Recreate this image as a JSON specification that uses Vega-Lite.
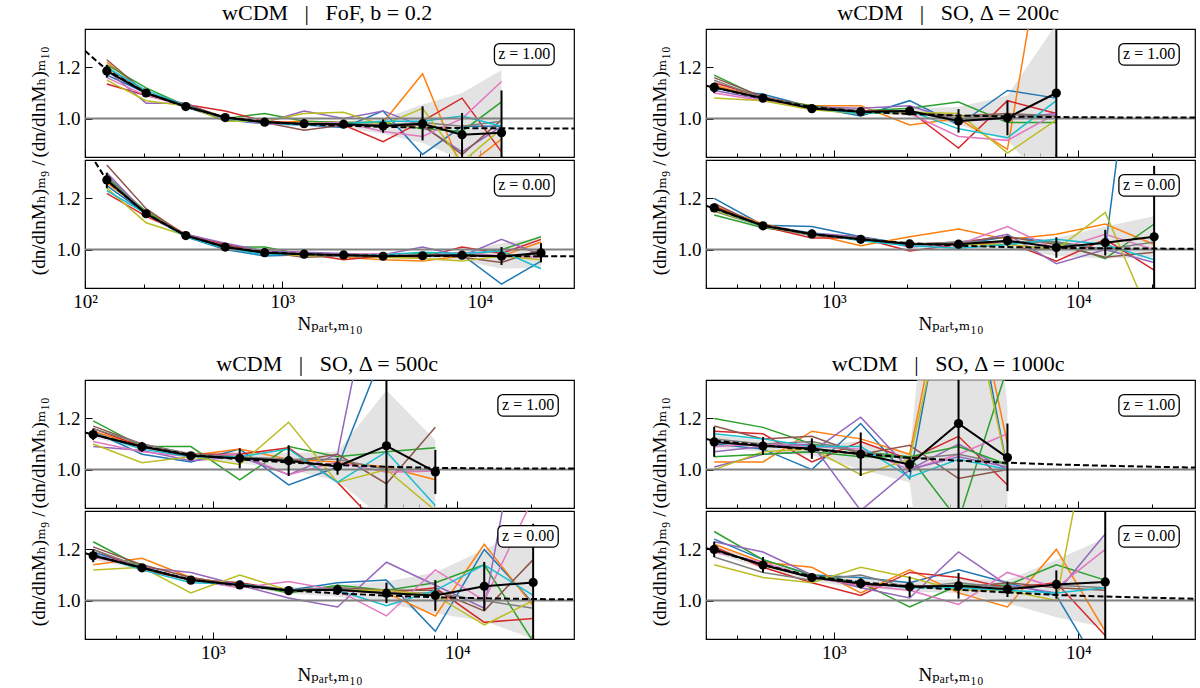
{
  "$schema": "https://vega.github.io/schema/vega-lite/v6.json",
  "background": "white",
  "padding": {"left": 28, "top": 2, "right": 0, "bottom": 0},
  "config": {
    "view": {"stroke": "black", "strokeWidth": 1.2},
    "axis": {"domain": false, "grid": false, "labelFont": "'Liberation Serif', 'DejaVu Serif', serif", "titleFont": "'Liberation Serif', 'DejaVu Serif', serif", "labelFontSize": 19, "titleFontSize": 19, "titleFontWeight": "normal", "labelColor": "black", "titleColor": "black", "tickColor": "black", "tickWidth": 1},
    "text": {"font": "'Liberation Serif', 'DejaVu Serif', serif"},
    "title": {"font": "'Liberation Serif', 'DejaVu Serif', serif", "fontSize": 22, "fontWeight": "normal", "color": "black", "anchor": "middle", "offset": 3, "dx": 25}
  },
  "datasets": {
    "A1": [
      {"x": 100, "f": 1.265},
      {"x": 129, "m": 1.186, "el": 1.16, "eh": 1.21, "lo": 1.175, "hi": 1.2, "f": 1.19, "s0": 1.17, "s1": 1.22, "s2": 1.21, "s3": 1.135, "s4": 1.19, "s5": 1.23, "s6": 1.16, "s7": 1.2, "s8": 1.15, "s9": 1.2},
      {"x": 204, "m": 1.1, "el": 1.09, "eh": 1.11, "lo": 1.093, "hi": 1.107, "f": 1.1, "s0": 1.1, "s1": 1.1, "s2": 1.12, "s3": 1.09, "s4": 1.06, "s5": 1.1, "s6": 1.09, "s7": 1.1, "s8": 1.07, "s9": 1.11},
      {"x": 324, "m": 1.047, "el": 1.04, "eh": 1.055, "lo": 1.04, "hi": 1.054, "f": 1.046, "s0": 1.045, "s1": 1.05, "s2": 1.05, "s3": 1.055, "s4": 1.06, "s5": 1.055, "s6": 1.05, "s7": 1.05, "s8": 1.05, "s9": 1.05},
      {"x": 513, "m": 1.004, "el": 0.997, "eh": 1.011, "lo": 0.998, "hi": 1.01, "f": 1.005, "s0": 0.995, "s1": 1.0, "s2": 1.0, "s3": 1.03, "s4": 1.0, "s5": 1.005, "s6": 1.0, "s7": 1.0, "s8": 0.99, "s9": 1.0},
      {"x": 813, "m": 0.986, "el": 0.98, "eh": 0.992, "lo": 0.98, "hi": 0.992, "f": 0.987, "s0": 0.98, "s1": 0.985, "s2": 1.02, "s3": 0.99, "s4": 0.985, "s5": 0.985, "s6": 0.98, "s7": 0.985, "s8": 0.99, "s9": 0.985},
      {"x": 1288, "m": 0.98, "el": 0.972, "eh": 0.988, "lo": 0.974, "hi": 0.988, "f": 0.978, "s0": 0.975, "s1": 0.99, "s2": 0.99, "s3": 0.98, "s4": 1.03, "s5": 0.955, "s6": 0.98, "s7": 0.98, "s8": 1.02, "s9": 0.975},
      {"x": 2042, "m": 0.978, "el": 0.968, "eh": 0.988, "lo": 0.965, "hi": 0.99, "f": 0.972, "s0": 0.965, "s1": 0.985, "s2": 0.985, "s3": 0.975, "s4": 1.0, "s5": 0.975, "s6": 0.985, "s7": 0.98, "s8": 1.025, "s9": 0.98},
      {"x": 3236, "m": 0.971, "el": 0.945, "eh": 0.997, "lo": 0.94, "hi": 1.0, "f": 0.968, "s0": 1.03, "s1": 0.985, "s2": 0.985, "s3": 0.91, "s4": 1.03, "s5": 0.97, "s6": 0.95, "s7": 0.975, "s8": 0.975, "s9": 0.99},
      {"x": 5129, "m": 0.98, "el": 0.915, "eh": 1.048, "lo": 0.905, "hi": 1.055, "f": 0.965, "s0": 0.86, "s1": 1.175, "s2": 0.96, "s3": 0.99, "s4": 0.97, "s5": 0.975, "s6": 0.93, "s7": 0.985, "s8": 1.04, "s9": 0.99},
      {"x": 8128, "m": 0.937, "el": 0.84, "eh": 1.022, "lo": 0.84, "hi": 1.1, "f": 0.963, "s0": 0.97, "s1": 0.8, "s2": 0.95, "s3": 1.08, "s4": 0.87, "s5": 0.86, "s6": 1.0, "s7": 0.97, "s8": 0.83, "s9": 1.01},
      {"x": 12882, "m": 0.945, "el": 0.8, "eh": 1.11, "lo": 0.76, "hi": 1.19, "f": 0.962, "s0": 0.97, "s1": 0.92, "s2": 1.065, "s3": 0.87, "s4": 0.97, "s5": 0.995, "s6": 1.145, "s7": 0.99, "s8": 0.96, "s9": 0.97},
      {"x": 20417, "f": 0.961},
      {"x": 30000, "f": 0.961}
    ],
    "A0": [
      {"x": 100, "f": 1.4},
      {"x": 112, "f": 1.345},
      {"x": 129, "m": 1.272, "el": 1.24, "eh": 1.3, "lo": 1.26, "hi": 1.285, "f": 1.27, "s0": 1.25, "s1": 1.26, "s2": 1.28, "s3": 1.22, "s4": 1.3, "s5": 1.33, "s6": 1.27, "s7": 1.29, "s8": 1.24, "s9": 1.23},
      {"x": 204, "m": 1.14, "el": 1.13, "eh": 1.15, "lo": 1.133, "hi": 1.147, "f": 1.14, "s0": 1.14, "s1": 1.15, "s2": 1.15, "s3": 1.13, "s4": 1.14, "s5": 1.16, "s6": 1.14, "s7": 1.14, "s8": 1.105, "s9": 1.14},
      {"x": 324, "m": 1.055, "el": 1.048, "eh": 1.062, "lo": 1.048, "hi": 1.06, "f": 1.055, "s0": 1.05, "s1": 1.06, "s2": 1.05, "s3": 1.06, "s4": 1.06, "s5": 1.055, "s6": 1.055, "s7": 1.05, "s8": 1.055, "s9": 1.05},
      {"x": 513, "m": 1.01, "el": 1.004, "eh": 1.016, "lo": 1.005, "hi": 1.015, "f": 1.01, "s0": 1.0, "s1": 1.015, "s2": 1.01, "s3": 1.02, "s4": 1.025, "s5": 1.015, "s6": 1.01, "s7": 1.01, "s8": 1.005, "s9": 1.005},
      {"x": 813, "m": 0.988, "el": 0.983, "eh": 0.993, "lo": 0.983, "hi": 0.993, "f": 0.99, "s0": 0.975, "s1": 0.995, "s2": 1.01, "s3": 0.99, "s4": 0.995, "s5": 0.99, "s6": 0.99, "s7": 0.985, "s8": 0.99, "s9": 0.98},
      {"x": 1288, "m": 0.982, "el": 0.977, "eh": 0.987, "lo": 0.977, "hi": 0.987, "f": 0.982, "s0": 0.98, "s1": 0.99, "s2": 0.98, "s3": 0.985, "s4": 0.99, "s5": 0.97, "s6": 0.985, "s7": 0.985, "s8": 0.975, "s9": 0.985},
      {"x": 2042, "m": 0.979, "el": 0.974, "eh": 0.984, "lo": 0.972, "hi": 0.984, "f": 0.978, "s0": 0.975, "s1": 0.97, "s2": 0.98, "s3": 0.96, "s4": 0.985, "s5": 0.975, "s6": 0.98, "s7": 0.975, "s8": 0.98, "s9": 0.975},
      {"x": 3236, "m": 0.974, "el": 0.968, "eh": 0.98, "lo": 0.967, "hi": 0.983, "f": 0.976, "s0": 0.97, "s1": 0.96, "s2": 0.975, "s3": 0.975, "s4": 0.98, "s5": 0.97, "s6": 0.985, "s7": 0.975, "s8": 0.97, "s9": 0.98},
      {"x": 5129, "m": 0.976, "el": 0.968, "eh": 0.984, "lo": 0.963, "hi": 0.987, "f": 0.975, "s0": 0.975, "s1": 0.955, "s2": 0.985, "s3": 0.97, "s4": 1.01, "s5": 0.98, "s6": 0.975, "s7": 0.98, "s8": 0.965, "s9": 0.99},
      {"x": 8128, "m": 0.978, "el": 0.968, "eh": 0.988, "lo": 0.958, "hi": 0.993, "f": 0.975, "s0": 0.98, "s1": 0.975, "s2": 0.975, "s3": 1.01, "s4": 0.975, "s5": 0.97, "s6": 0.99, "s7": 0.98, "s8": 0.955, "s9": 0.985},
      {"x": 12882, "m": 0.974, "el": 0.94, "eh": 1.01, "lo": 0.925, "hi": 1.025, "f": 0.975, "s0": 0.865, "s1": 0.975, "s2": 1.0, "s3": 0.985, "s4": 1.04, "s5": 0.95, "s6": 0.975, "s7": 0.97, "s8": 0.975, "s9": 0.995},
      {"x": 20417, "m": 0.987, "el": 0.95, "eh": 1.025, "lo": 0.93, "hi": 1.045, "f": 0.974, "s0": 0.955, "s1": 1.03, "s2": 1.05, "s3": 1.04, "s4": 0.98, "s5": 1.0, "s6": 0.97, "s7": 0.985, "s8": 0.96, "s9": 0.925},
      {"x": 30000, "f": 0.974}
    ],
    "B1": [
      {"x": 300, "f": 1.128},
      {"x": 324, "m": 1.122, "el": 1.1, "eh": 1.14, "lo": 1.11, "hi": 1.135, "f": 1.122, "s0": 1.12, "s1": 1.13, "s2": 1.17, "s3": 1.14, "s4": 1.11, "s5": 1.16, "s6": 1.1, "s7": 1.15, "s8": 1.08, "s9": 1.12},
      {"x": 513, "m": 1.08, "el": 1.072, "eh": 1.088, "lo": 1.073, "hi": 1.087, "f": 1.078, "s0": 1.095, "s1": 1.08, "s2": 1.08, "s3": 1.085, "s4": 1.075, "s5": 1.085, "s6": 1.07, "s7": 1.08, "s8": 1.07, "s9": 1.08},
      {"x": 813, "m": 1.039, "el": 1.033, "eh": 1.045, "lo": 1.035, "hi": 1.05, "f": 1.045, "s0": 1.045, "s1": 1.05, "s2": 1.05, "s3": 1.04, "s4": 1.045, "s5": 1.045, "s6": 1.04, "s7": 1.045, "s8": 1.035, "s9": 1.04},
      {"x": 1288, "m": 1.027, "el": 1.02, "eh": 1.034, "lo": 1.02, "hi": 1.035, "f": 1.027, "s0": 1.01, "s1": 1.05, "s2": 1.03, "s3": 1.03, "s4": 1.04, "s5": 1.03, "s6": 1.03, "s7": 1.025, "s8": 1.02, "s9": 1.02},
      {"x": 2042, "m": 1.03, "el": 1.015, "eh": 1.045, "lo": 1.01, "hi": 1.04, "f": 1.018, "s0": 1.07, "s1": 0.975, "s2": 1.04, "s3": 1.03, "s4": 1.05, "s5": 1.025, "s6": 1.02, "s7": 1.03, "s8": 1.025, "s9": 1.03},
      {"x": 3236, "m": 0.991, "el": 0.945, "eh": 1.037, "lo": 0.975, "hi": 1.045, "f": 1.012, "s0": 0.975, "s1": 1.0, "s2": 1.065, "s3": 0.885, "s4": 0.99, "s5": 1.01, "s6": 0.93, "s7": 1.0, "s8": 1.02, "s9": 0.96},
      {"x": 5129, "m": 1.003, "el": 0.935, "eh": 1.07, "lo": 0.915, "hi": 1.09, "f": 1.008, "s0": 1.11, "s1": 0.88, "s2": 0.985, "s3": 1.07, "s4": 1.0, "s5": 1.02, "s6": 0.915, "s7": 1.015, "s8": 0.865, "s9": 0.925},
      {"x": 8128, "m": 1.1, "el": 0.5, "eh": 1.7, "lo": 0.7, "hi": 1.37, "f": 1.006, "s0": 1.08, "s1": 2.0, "s2": 0.985, "s3": 1.02, "s4": 1.02, "s5": 1.01, "s6": 1.02, "s7": 1.01, "s8": 0.995, "s9": 1.07},
      {"x": 12882, "f": 1.005},
      {"x": 20417, "f": 1.004},
      {"x": 30000, "f": 1.004}
    ],
    "B0": [
      {"x": 300, "f": 1.172},
      {"x": 324, "m": 1.163, "el": 1.15, "eh": 1.176, "lo": 1.15, "hi": 1.175, "f": 1.16, "s0": 1.2, "s1": 1.17, "s2": 1.135, "s3": 1.17, "s4": 1.16, "s5": 1.18, "s6": 1.16, "s7": 1.15, "s8": 1.155, "s9": 1.16},
      {"x": 513, "m": 1.093, "el": 1.085, "eh": 1.1, "lo": 1.085, "hi": 1.1, "f": 1.095, "s0": 1.095, "s1": 1.1, "s2": 1.085, "s3": 1.09, "s4": 1.095, "s5": 1.09, "s6": 1.09, "s7": 1.09, "s8": 1.09, "s9": 1.09},
      {"x": 813, "m": 1.061, "el": 1.054, "eh": 1.068, "lo": 1.053, "hi": 1.067, "f": 1.06, "s0": 1.09, "s1": 1.06, "s2": 1.06, "s3": 1.045, "s4": 1.065, "s5": 1.06, "s6": 1.06, "s7": 1.055, "s8": 1.06, "s9": 1.065},
      {"x": 1288, "m": 1.04, "el": 1.033, "eh": 1.047, "lo": 1.033, "hi": 1.047, "f": 1.04, "s0": 1.05, "s1": 1.015, "s2": 1.04, "s3": 1.045, "s4": 1.05, "s5": 1.045, "s6": 1.04, "s7": 1.045, "s8": 1.04, "s9": 1.035},
      {"x": 2042, "m": 1.022, "el": 1.014, "eh": 1.03, "lo": 1.013, "hi": 1.03, "f": 1.025, "s0": 1.02, "s1": 1.05, "s2": 1.02, "s3": 0.995, "s4": 1.01, "s5": 1.02, "s6": 1.02, "s7": 1.02, "s8": 1.025, "s9": 1.015},
      {"x": 3236, "m": 1.021, "el": 1.007, "eh": 1.035, "lo": 1.005, "hi": 1.03, "f": 1.015, "s0": 1.02, "s1": 1.08, "s2": 1.02, "s3": 1.02, "s4": 1.02, "s5": 1.03, "s6": 1.02, "s7": 1.03, "s8": 1.02, "s9": 1.005},
      {"x": 5129, "m": 1.035, "el": 1.015, "eh": 1.055, "lo": 1.005, "hi": 1.035, "f": 1.01, "s0": 1.05, "s1": 1.04, "s2": 1.03, "s3": 1.03, "s4": 1.06, "s5": 1.05, "s6": 1.09, "s7": 1.03, "s8": 1.02, "s9": 1.02},
      {"x": 8128, "m": 1.008, "el": 0.968, "eh": 1.048, "lo": 0.975, "hi": 1.045, "f": 1.007, "s0": 1.03, "s1": 1.06, "s2": 1.03, "s3": 0.955, "s4": 0.945, "s5": 1.02, "s6": 1.0, "s7": 1.03, "s8": 1.0, "s9": 1.04},
      {"x": 12882, "m": 1.027, "el": 0.977, "eh": 1.077, "lo": 0.965, "hi": 1.09, "f": 1.005, "s0": 1.0, "s1": 1.1, "s2": 0.965, "s3": 1.04, "s4": 1.0, "s5": 0.97, "s6": 1.06, "s7": 1.0, "s8": 1.145, "s9": 1.02},
      {"x": 20417, "m": 1.05, "el": 0.7, "eh": 1.327, "lo": 0.97, "hi": 1.13, "f": 1.004, "s0": 2.5, "s1": 1.02, "s2": 1.1, "s3": 0.92, "s4": 0.95, "s5": 0.99, "s6": 1.0, "s7": 1.03, "s8": 0.7, "s9": 0.96},
      {"x": 30000, "f": 1.003}
    ],
    "C1": [
      {"x": 300, "f": 1.145},
      {"x": 324, "m": 1.137, "el": 1.115, "eh": 1.16, "lo": 1.125, "hi": 1.15, "f": 1.137, "s0": 1.15, "s1": 1.15, "s2": 1.19, "s3": 1.16, "s4": 1.09, "s5": 1.17, "s6": 1.11, "s7": 1.16, "s8": 1.1, "s9": 1.14},
      {"x": 513, "m": 1.089, "el": 1.07, "eh": 1.108, "lo": 1.078, "hi": 1.1, "f": 1.09, "s0": 1.06, "s1": 1.09, "s2": 1.09, "s3": 1.09, "s4": 1.075, "s5": 1.1, "s6": 1.07, "s7": 1.1, "s8": 1.027, "s9": 1.08},
      {"x": 813, "m": 1.054, "el": 1.045, "eh": 1.063, "lo": 1.045, "hi": 1.068, "f": 1.058, "s0": 1.03, "s1": 1.055, "s2": 1.09, "s3": 1.06, "s4": 1.035, "s5": 1.06, "s6": 1.05, "s7": 1.06, "s8": 1.05, "s9": 1.05},
      {"x": 1288, "m": 1.044, "el": 1.005, "eh": 1.083, "lo": 1.025, "hi": 1.07, "f": 1.04, "s0": 1.08, "s1": 1.08, "s2": 0.96, "s3": 1.06, "s4": 1.05, "s5": 1.05, "s6": 1.06, "s7": 1.05, "s8": 1.02, "s9": 1.05},
      {"x": 2042, "m": 1.035, "el": 0.975, "eh": 1.095, "lo": 1.0, "hi": 1.065, "f": 1.028, "s0": 0.94, "s1": 1.04, "s2": 1.09, "s3": 1.085, "s4": 0.98, "s5": 1.03, "s6": 0.98, "s7": 1.04, "s8": 1.185, "s9": 1.08},
      {"x": 3236, "m": 1.012, "el": 0.98, "eh": 1.045, "lo": 0.955, "hi": 1.07, "f": 1.018, "s0": 1.01, "s1": 1.03, "s2": 1.05, "s3": 0.95, "s4": 1.06, "s5": 1.06, "s6": 1.03, "s7": 1.04, "s8": 0.95, "s9": 0.95},
      {"x": 5129, "m": 1.093, "el": 0.5, "eh": 1.7, "lo": 0.8, "hi": 1.31, "f": 1.011, "s0": 1.49, "s1": 1.01, "s2": 1.07, "s3": 0.75, "s4": 2.0, "s5": 0.945, "s6": 0.99, "s7": 1.0, "s8": 1.0, "s9": 1.07},
      {"x": 8128, "m": 0.991, "el": 0.905, "eh": 1.077, "lo": 0.85, "hi": 1.115, "f": 1.007, "s1": 0.96, "s2": 1.085, "s5": 1.165, "s6": 0.995, "s7": 1.0, "s8": 0.84, "s9": 0.86},
      {"x": 12882, "f": 1.005},
      {"x": 20417, "f": 1.004},
      {"x": 30000, "f": 1.004}
    ],
    "C0": [
      {"x": 300, "f": 1.185},
      {"x": 324, "m": 1.175, "el": 1.15, "eh": 1.2, "lo": 1.16, "hi": 1.19, "f": 1.177, "s0": 1.19, "s1": 1.14, "s2": 1.23, "s3": 1.2, "s4": 1.18, "s5": 1.21, "s6": 1.17, "s7": 1.2, "s8": 1.12, "s9": 1.18},
      {"x": 513, "m": 1.128, "el": 1.12, "eh": 1.136, "lo": 1.12, "hi": 1.138, "f": 1.128, "s0": 1.13, "s1": 1.165, "s2": 1.13, "s3": 1.12, "s4": 1.13, "s5": 1.14, "s6": 1.13, "s7": 1.13, "s8": 1.13, "s9": 1.12},
      {"x": 813, "m": 1.08, "el": 1.073, "eh": 1.087, "lo": 1.072, "hi": 1.09, "f": 1.082, "s0": 1.08, "s1": 1.09, "s2": 1.08, "s3": 1.08, "s4": 1.11, "s5": 1.09, "s6": 1.08, "s7": 1.08, "s8": 1.03, "s9": 1.07},
      {"x": 1288, "m": 1.061, "el": 1.054, "eh": 1.068, "lo": 1.052, "hi": 1.068, "f": 1.058, "s0": 1.06, "s1": 1.06, "s2": 1.07, "s3": 1.07, "s4": 1.06, "s5": 1.06, "s6": 1.05, "s7": 1.06, "s8": 1.1, "s9": 1.065},
      {"x": 2042, "m": 1.039, "el": 1.032, "eh": 1.046, "lo": 1.028, "hi": 1.05, "f": 1.04, "s0": 1.04, "s1": 1.04, "s2": 1.03, "s3": 1.04, "s4": 1.01, "s5": 1.04, "s6": 1.075, "s7": 1.04, "s8": 1.04, "s9": 1.04},
      {"x": 3236, "m": 1.042, "el": 1.022, "eh": 1.062, "lo": 1.015, "hi": 1.06, "f": 1.028, "s0": 1.07, "s1": 1.05, "s2": 1.06, "s3": 1.04, "s4": 0.975, "s5": 1.05, "s6": 1.04, "s7": 1.05, "s8": 1.04, "s9": 1.04},
      {"x": 5129, "m": 1.029, "el": 0.99, "eh": 1.07, "lo": 0.99, "hi": 1.075, "f": 1.02, "s0": 1.08, "s1": 1.03, "s2": 1.04, "s3": 1.03, "s4": 1.15, "s5": 1.04, "s6": 0.94, "s7": 1.03, "s8": 1.04, "s9": 0.98},
      {"x": 8128, "m": 1.02, "el": 0.96, "eh": 1.08, "lo": 0.95, "hi": 1.11, "f": 1.013, "s0": 0.88, "s1": 0.94, "s2": 1.07, "s3": 1.05, "s4": 1.06, "s5": 1.04, "s6": 1.12, "s7": 1.03, "s8": 1.02, "s9": 1.04},
      {"x": 12882, "m": 1.056, "el": 0.961, "eh": 1.151, "lo": 0.92, "hi": 1.2, "f": 1.009, "s0": 1.2, "s1": 1.22, "s2": 1.14, "s3": 0.915, "s4": 0.97, "s5": 0.96, "s6": 1.0, "s7": 1.0, "s8": 0.905, "s9": 1.14},
      {"x": 20417, "m": 1.071, "el": 0.7, "eh": 1.3, "lo": 0.85, "hi": 1.29, "f": 1.006, "s0": 0.99, "s1": 0.98, "s2": 0.84, "s3": 0.93, "s4": 2.0, "s5": 1.16, "s6": 1.4, "s7": 0.97, "s8": 1.0, "s9": 1.02},
      {"x": 30000, "f": 1.005}
    ],
    "D1": [
      {"x": 300, "f": 1.12},
      {"x": 324, "m": 1.108, "el": 1.05, "eh": 1.167, "lo": 1.085, "hi": 1.135, "f": 1.113, "s0": 1.1, "s1": 1.03, "s2": 1.2, "s3": 1.15, "s4": 1.01, "s5": 1.17, "s6": 1.09, "s7": 1.12, "s8": 1.0, "s9": 1.14, "s12": 1.05, "s14": 1.07},
      {"x": 513, "m": 1.092, "el": 1.057, "eh": 1.127, "lo": 1.07, "hi": 1.115, "f": 1.095, "s0": 1.08, "s1": 1.03, "s2": 1.165, "s3": 1.14, "s4": 1.06, "s5": 1.12, "s6": 1.1, "s7": 1.1, "s8": 1.07, "s9": 1.12, "s12": 1.06, "s14": 1.09},
      {"x": 813, "m": 1.082, "el": 1.042, "eh": 1.122, "lo": 1.055, "hi": 1.1, "f": 1.078, "s0": 1.0, "s1": 1.15, "s2": 1.1, "s3": 1.03, "s4": 1.07, "s5": 1.13, "s6": 1.09, "s7": 1.11, "s8": 1.08, "s9": 1.09, "s12": 1.07, "s14": 1.1},
      {"x": 1288, "m": 1.06, "el": 0.975, "eh": 1.145, "lo": 1.0, "hi": 1.11, "f": 1.062, "s0": 1.18, "s1": 1.12, "s2": 1.07, "s3": 1.11, "s4": 1.205, "s5": 1.06, "s6": 1.08, "s7": 1.07, "s8": 0.98, "s9": 1.09, "s12": 1.05, "s14": 0.84},
      {"x": 2042, "m": 1.02, "el": 0.99, "eh": 1.05, "lo": 0.95, "hi": 1.06, "f": 1.046, "s0": 0.965, "s1": 1.06, "s2": 1.05, "s3": 1.04, "s4": 1.0, "s5": 1.095, "s6": 1.0, "s7": 1.04, "s8": 1.04, "s9": 0.97, "s12": 1.05, "s14": 1.0},
      {"x": 3236, "m": 1.18, "el": 0.5, "eh": 1.7, "lo": -0.5, "hi": 3.0, "f": 1.035, "s0": 2.0, "s1": 2.0, "s2": 0.8, "s3": 1.13, "s4": 1.1, "s5": 0.965, "s6": 1.06, "s7": 1.06, "s8": 1.9, "s9": 1.04, "s12": 1.09, "s14": 1.05},
      {"x": 5129, "m": 1.047, "el": 0.916, "eh": 1.18, "lo": 0.75, "hi": 1.245, "f": 1.027, "s0": 1.0, "s1": 1.1, "s2": 1.4, "s3": 0.94, "s4": 1.0, "s5": 1.0, "s6": 1.14, "s7": 1.02, "s8": 1.0, "s9": 1.0, "s12": 1.02, "s14": 1.01},
      {"x": 8128, "f": 1.02},
      {"x": 12882, "f": 1.015},
      {"x": 20417, "f": 1.011},
      {"x": 30000, "f": 1.008}
    ],
    "D0": [
      {"x": 300, "f": 1.205},
      {"x": 324, "m": 1.2, "el": 1.17, "eh": 1.23, "lo": 1.185, "hi": 1.215, "f": 1.197, "s0": 1.24, "s1": 1.22, "s2": 1.27, "s3": 1.21, "s4": 1.23, "s5": 1.2, "s6": 1.19, "s7": 1.17, "s8": 1.14, "s9": 1.2},
      {"x": 513, "m": 1.139, "el": 1.11, "eh": 1.17, "lo": 1.125, "hi": 1.15, "f": 1.14, "s0": 1.16, "s1": 1.15, "s2": 1.16, "s3": 1.13, "s4": 1.19, "s5": 1.14, "s6": 1.15, "s7": 1.11, "s8": 1.09, "s9": 1.14},
      {"x": 813, "m": 1.09, "el": 1.075, "eh": 1.105, "lo": 1.075, "hi": 1.105, "f": 1.095, "s0": 1.1, "s1": 1.13, "s2": 1.1, "s3": 1.07, "s4": 1.1, "s5": 1.09, "s6": 1.09, "s7": 1.08, "s8": 1.07, "s9": 1.09},
      {"x": 1288, "m": 1.067, "el": 1.047, "eh": 1.087, "lo": 1.05, "hi": 1.09, "f": 1.072, "s0": 1.09, "s1": 1.03, "s2": 1.07, "s3": 1.02, "s4": 1.05, "s5": 1.06, "s6": 1.06, "s7": 1.1, "s8": 1.13, "s9": 1.07},
      {"x": 2042, "m": 1.054, "el": 1.014, "eh": 1.094, "lo": 1.035, "hi": 1.075, "f": 1.055, "s0": 1.07, "s1": 1.12, "s2": 0.975, "s3": 1.11, "s4": 1.01, "s5": 1.06, "s6": 1.04, "s7": 1.05, "s8": 1.09, "s9": 1.05},
      {"x": 3236, "m": 1.058, "el": 1.008, "eh": 1.108, "lo": 1.03, "hi": 1.085, "f": 1.042, "s0": 1.12, "s1": 1.03, "s2": 1.06, "s3": 1.09, "s4": 1.19, "s5": 1.05, "s6": 0.985, "s7": 1.07, "s8": 1.04, "s9": 1.05},
      {"x": 5129, "m": 1.044, "el": 1.014, "eh": 1.074, "lo": 0.99, "hi": 1.08, "f": 1.032, "s0": 1.07, "s1": 0.975, "s2": 1.06, "s3": 1.05, "s4": 1.06, "s5": 1.07, "s6": 1.11, "s7": 1.05, "s8": 1.04, "s9": 1.04},
      {"x": 8128, "m": 1.063, "el": 1.008, "eh": 1.118, "lo": 0.935, "hi": 1.16, "f": 1.022, "s0": 1.02, "s1": 1.2, "s2": 1.14, "s3": 1.07, "s4": 1.03, "s5": 1.05, "s6": 1.05, "s7": 1.06, "s8": 1.0, "s9": 1.03},
      {"x": 12882, "m": 1.073, "el": 0.7, "eh": 1.36, "lo": 0.895, "hi": 1.245, "f": 1.016, "s0": 0.7, "s1": 0.88, "s2": 1.08, "s3": 0.864, "s4": 1.26, "s5": 1.04, "s6": 1.2, "s7": 1.05, "s8": 2.0, "s9": 1.05},
      {"x": 20417, "f": 1.011},
      {"x": 30000, "f": 1.007}
    ]
  },
  "vconcat": [
    {
      "hconcat": [
        {
          "title": {"text": "wCDM\u00a0\u00a0\u00a0|\u00a0\u00a0\u00a0FoF, b = 0.2"},
          "spacing": 0,
          "vconcat": [
            {
              "width": 489, "height": 128,
              "data": {"name": "A1"},
              "layer": [
                {"transform": [{"filter": "isValid(datum.lo)"}], "mark": {"type": "area", "color": "#d9d9d9", "opacity": 0.75, "clip": true},
                 "encoding": {
                   "x": {"field": "x", "type": "quantitative", "scale": {"type": "log", "domain": [100, 30000], "nice": false},
                         "axis": {"values": [100, 200, 300, 400, 500, 600, 700, 800, 900, 1000, 2000, 3000, 4000, 5000, 6000, 7000, 8000, 9000, 10000, 20000], "labels": false, "title": null,
                                  "tickSize": {"condition": {"test": "datum.value == 100 || datum.value == 1000 || datum.value == 10000", "value": -7}, "value": -4}}},
                   "y": {"field": "lo", "type": "quantitative", "scale": {"domain": [0.85, 1.35], "nice": false, "zero": false},
                         "axis": {"values": [1.0, 1.2], "format": ".1f", "tickSize": -7, "labelPadding": 12, "title": "\u00a0(dn/dlnMₕ)ₘ₁₀", "titleAnchor": "start", "titlePadding": 8}},
                   "y2": {"field": "hi"}}},
                {"transform": [{"fold": ["s0", "s1", "s2", "s3", "s4", "s5", "s6", "s7", "s8", "s9", "s12", "s14"], "as": ["s", "v"]}, {"filter": "isValid(datum.v)"}],
                 "mark": {"type": "line", "strokeWidth": 1.5, "clip": true},
                 "encoding": {"x": {"field": "x", "type": "quantitative", "scale": {"type": "log"}}, "y": {"field": "v", "type": "quantitative"},
                   "color": {"field": "s", "type": "nominal", "legend": null, "scale": {"domain": ["s0", "s1", "s2", "s3", "s4", "s5", "s6", "s7", "s8", "s9", "s12", "s14"], "range": ["#1f77b4", "#ff7f0e", "#2ca02c", "#d62728", "#9467bd", "#8c564b", "#e377c2", "#7f7f7f", "#bcbd22", "#17becf", "#2ca02c", "#9467bd"]}}}},
                {"data": {"values": [{}]}, "mark": {"type": "rule", "color": "#808080", "strokeWidth": 2}, "encoding": {"y": {"datum": 1}}},
                {"transform": [{"filter": "isValid(datum.f)"}], "mark": {"type": "line", "color": "black", "strokeWidth": 2, "strokeDash": [6, 3], "clip": true},
                 "encoding": {"x": {"field": "x", "type": "quantitative", "scale": {"type": "log"}}, "y": {"field": "f", "type": "quantitative"}}},
                {"transform": [{"filter": "isValid(datum.m)"}], "mark": {"type": "rule", "color": "black", "strokeWidth": 2, "clip": true},
                 "encoding": {"x": {"field": "x", "type": "quantitative", "scale": {"type": "log"}}, "y": {"field": "el", "type": "quantitative"}, "y2": {"field": "eh"}}},
                {"transform": [{"filter": "isValid(datum.m)"}], "mark": {"type": "line", "color": "black", "strokeWidth": 2, "clip": true},
                 "encoding": {"x": {"field": "x", "type": "quantitative", "scale": {"type": "log"}}, "y": {"field": "m", "type": "quantitative"}}},
                {"transform": [{"filter": "isValid(datum.m)"}], "mark": {"type": "circle", "color": "black", "size": 85, "opacity": 1, "clip": true},
                 "encoding": {"x": {"field": "x", "type": "quantitative", "scale": {"type": "log"}}, "y": {"field": "m", "type": "quantitative"}}},
                {"data": {"values": [{}]}, "mark": {"type": "rect", "fill": "white", "stroke": "black", "strokeWidth": 1.3, "cornerRadius": 5},
                 "encoding": {"x": {"datum": 11860}, "x2": {"datum": 23800}, "y": {"datum": 1.209}, "y2": {"datum": 1.293}}},
                {"data": {"values": [{}]}, "mark": {"type": "text", "fontSize": 16},
                 "encoding": {"x": {"datum": 16800}, "y": {"datum": 1.251}, "text": {"value": "z = 1.00"}}}
              ]
            },
            {
              "width": 489, "height": 128,
              "data": {"name": "A0"},
              "layer": [
                {"transform": [{"filter": "isValid(datum.lo)"}], "mark": {"type": "area", "color": "#d9d9d9", "opacity": 0.75, "clip": true},
                 "encoding": {
                   "x": {"field": "x", "type": "quantitative", "scale": {"type": "log", "domain": [100, 30000], "nice": false},
                         "axis": {"values": [100, 200, 300, 400, 500, 600, 700, 800, 900, 1000, 2000, 3000, 4000, 5000, 6000, 7000, 8000, 9000, 10000, 20000], "title": "Nₚₐᵣₜ,ₘ₁₀", "titlePadding": 0, "labelFlush": false, "labelOverlap": false, "labelPadding": 11,
                                  "labelExpr": "datum.value == 100 ? '10²' : datum.value == 1000 ? '10³' : datum.value == 10000 ? '10⁴' : ''",
                                  "tickSize": {"condition": {"test": "datum.value == 100 || datum.value == 1000 || datum.value == 10000", "value": -7}, "value": -4}}},
                   "y": {"field": "lo", "type": "quantitative", "scale": {"domain": [0.85, 1.35], "nice": false, "zero": false},
                         "axis": {"values": [1.0, 1.2], "format": ".1f", "tickSize": -7, "labelPadding": 12, "title": "(dn/dlnMₕ)ₘ₉\u00a0/", "titleAnchor": "end", "titlePadding": 8}},
                   "y2": {"field": "hi"}}},
                {"transform": [{"fold": ["s0", "s1", "s2", "s3", "s4", "s5", "s6", "s7", "s8", "s9", "s12", "s14"], "as": ["s", "v"]}, {"filter": "isValid(datum.v)"}],
                 "mark": {"type": "line", "strokeWidth": 1.5, "clip": true},
                 "encoding": {"x": {"field": "x", "type": "quantitative", "scale": {"type": "log"}}, "y": {"field": "v", "type": "quantitative"},
                   "color": {"field": "s", "type": "nominal", "legend": null, "scale": {"domain": ["s0", "s1", "s2", "s3", "s4", "s5", "s6", "s7", "s8", "s9", "s12", "s14"], "range": ["#1f77b4", "#ff7f0e", "#2ca02c", "#d62728", "#9467bd", "#8c564b", "#e377c2", "#7f7f7f", "#bcbd22", "#17becf", "#2ca02c", "#9467bd"]}}}},
                {"data": {"values": [{}]}, "mark": {"type": "rule", "color": "#808080", "strokeWidth": 2}, "encoding": {"y": {"datum": 1}}},
                {"transform": [{"filter": "isValid(datum.f)"}], "mark": {"type": "line", "color": "black", "strokeWidth": 2, "strokeDash": [6, 3], "clip": true},
                 "encoding": {"x": {"field": "x", "type": "quantitative", "scale": {"type": "log"}}, "y": {"field": "f", "type": "quantitative"}}},
                {"transform": [{"filter": "isValid(datum.m)"}], "mark": {"type": "rule", "color": "black", "strokeWidth": 2, "clip": true},
                 "encoding": {"x": {"field": "x", "type": "quantitative", "scale": {"type": "log"}}, "y": {"field": "el", "type": "quantitative"}, "y2": {"field": "eh"}}},
                {"transform": [{"filter": "isValid(datum.m)"}], "mark": {"type": "line", "color": "black", "strokeWidth": 2, "clip": true},
                 "encoding": {"x": {"field": "x", "type": "quantitative", "scale": {"type": "log"}}, "y": {"field": "m", "type": "quantitative"}}},
                {"transform": [{"filter": "isValid(datum.m)"}], "mark": {"type": "circle", "color": "black", "size": 85, "opacity": 1, "clip": true},
                 "encoding": {"x": {"field": "x", "type": "quantitative", "scale": {"type": "log"}}, "y": {"field": "m", "type": "quantitative"}}},
                {"data": {"values": [{}]}, "mark": {"type": "rect", "fill": "white", "stroke": "black", "strokeWidth": 1.3, "cornerRadius": 5},
                 "encoding": {"x": {"datum": 11860}, "x2": {"datum": 23800}, "y": {"datum": 1.209}, "y2": {"datum": 1.293}}},
                {"data": {"values": [{}]}, "mark": {"type": "text", "fontSize": 16},
                 "encoding": {"x": {"datum": 16800}, "y": {"datum": 1.251}, "text": {"value": "z = 0.00"}}}
              ]
            }
          ]
        },
        {
          "title": {"text": "wCDM\u00a0\u00a0\u00a0|\u00a0\u00a0\u00a0SO, Δ = 200c"},
          "spacing": 0,
          "vconcat": [
            {
              "width": 489, "height": 128,
              "data": {"name": "B1"},
              "layer": [
                {"transform": [{"filter": "isValid(datum.lo)"}], "mark": {"type": "area", "color": "#d9d9d9", "opacity": 0.75, "clip": true},
                 "encoding": {
                   "x": {"field": "x", "type": "quantitative", "scale": {"type": "log", "domain": [300, 30000], "nice": false},
                         "axis": {"values": [300, 400, 500, 600, 700, 800, 900, 1000, 2000, 3000, 4000, 5000, 6000, 7000, 8000, 9000, 10000, 20000], "labels": false, "title": null,
                                  "tickSize": {"condition": {"test": "datum.value == 1000 || datum.value == 10000", "value": -7}, "value": -4}}},
                   "y": {"field": "lo", "type": "quantitative", "scale": {"domain": [0.85, 1.35], "nice": false, "zero": false},
                         "axis": {"values": [1.0, 1.2], "format": ".1f", "tickSize": -7, "labelPadding": 12, "title": "\u00a0(dn/dlnMₕ)ₘ₁₀", "titleAnchor": "start", "titlePadding": 8}},
                   "y2": {"field": "hi"}}},
                {"transform": [{"fold": ["s0", "s1", "s2", "s3", "s4", "s5", "s6", "s7", "s8", "s9", "s12", "s14"], "as": ["s", "v"]}, {"filter": "isValid(datum.v)"}],
                 "mark": {"type": "line", "strokeWidth": 1.5, "clip": true},
                 "encoding": {"x": {"field": "x", "type": "quantitative", "scale": {"type": "log"}}, "y": {"field": "v", "type": "quantitative"},
                   "color": {"field": "s", "type": "nominal", "legend": null, "scale": {"domain": ["s0", "s1", "s2", "s3", "s4", "s5", "s6", "s7", "s8", "s9", "s12", "s14"], "range": ["#1f77b4", "#ff7f0e", "#2ca02c", "#d62728", "#9467bd", "#8c564b", "#e377c2", "#7f7f7f", "#bcbd22", "#17becf", "#2ca02c", "#9467bd"]}}}},
                {"data": {"values": [{}]}, "mark": {"type": "rule", "color": "#808080", "strokeWidth": 2}, "encoding": {"y": {"datum": 1}}},
                {"transform": [{"filter": "isValid(datum.f)"}], "mark": {"type": "line", "color": "black", "strokeWidth": 2, "strokeDash": [6, 3], "clip": true},
                 "encoding": {"x": {"field": "x", "type": "quantitative", "scale": {"type": "log"}}, "y": {"field": "f", "type": "quantitative"}}},
                {"transform": [{"filter": "isValid(datum.m)"}], "mark": {"type": "rule", "color": "black", "strokeWidth": 2, "clip": true},
                 "encoding": {"x": {"field": "x", "type": "quantitative", "scale": {"type": "log"}}, "y": {"field": "el", "type": "quantitative"}, "y2": {"field": "eh"}}},
                {"transform": [{"filter": "isValid(datum.m)"}], "mark": {"type": "line", "color": "black", "strokeWidth": 2, "clip": true},
                 "encoding": {"x": {"field": "x", "type": "quantitative", "scale": {"type": "log"}}, "y": {"field": "m", "type": "quantitative"}}},
                {"transform": [{"filter": "isValid(datum.m)"}], "mark": {"type": "circle", "color": "black", "size": 85, "opacity": 1, "clip": true},
                 "encoding": {"x": {"field": "x", "type": "quantitative", "scale": {"type": "log"}}, "y": {"field": "m", "type": "quantitative"}}},
                {"data": {"values": [{}]}, "mark": {"type": "rect", "fill": "white", "stroke": "black", "strokeWidth": 1.3, "cornerRadius": 5},
                 "encoding": {"x": {"datum": 14650}, "x2": {"datum": 25860}, "y": {"datum": 1.209}, "y2": {"datum": 1.293}}},
                {"data": {"values": [{}]}, "mark": {"type": "text", "fontSize": 16},
                 "encoding": {"x": {"datum": 19480}, "y": {"datum": 1.251}, "text": {"value": "z = 1.00"}}}
              ]
            },
            {
              "width": 489, "height": 128,
              "data": {"name": "B0"},
              "layer": [
                {"transform": [{"filter": "isValid(datum.lo)"}], "mark": {"type": "area", "color": "#d9d9d9", "opacity": 0.75, "clip": true},
                 "encoding": {
                   "x": {"field": "x", "type": "quantitative", "scale": {"type": "log", "domain": [300, 30000], "nice": false},
                         "axis": {"values": [300, 400, 500, 600, 700, 800, 900, 1000, 2000, 3000, 4000, 5000, 6000, 7000, 8000, 9000, 10000, 20000], "title": "Nₚₐᵣₜ,ₘ₁₀", "titlePadding": 0, "labelFlush": false, "labelOverlap": false, "labelPadding": 11,
                                  "labelExpr": "datum.value == 100 ? '10²' : datum.value == 1000 ? '10³' : datum.value == 10000 ? '10⁴' : ''",
                                  "tickSize": {"condition": {"test": "datum.value == 1000 || datum.value == 10000", "value": -7}, "value": -4}}},
                   "y": {"field": "lo", "type": "quantitative", "scale": {"domain": [0.85, 1.35], "nice": false, "zero": false},
                         "axis": {"values": [1.0, 1.2], "format": ".1f", "tickSize": -7, "labelPadding": 12, "title": "(dn/dlnMₕ)ₘ₉\u00a0/", "titleAnchor": "end", "titlePadding": 8}},
                   "y2": {"field": "hi"}}},
                {"transform": [{"fold": ["s0", "s1", "s2", "s3", "s4", "s5", "s6", "s7", "s8", "s9", "s12", "s14"], "as": ["s", "v"]}, {"filter": "isValid(datum.v)"}],
                 "mark": {"type": "line", "strokeWidth": 1.5, "clip": true},
                 "encoding": {"x": {"field": "x", "type": "quantitative", "scale": {"type": "log"}}, "y": {"field": "v", "type": "quantitative"},
                   "color": {"field": "s", "type": "nominal", "legend": null, "scale": {"domain": ["s0", "s1", "s2", "s3", "s4", "s5", "s6", "s7", "s8", "s9", "s12", "s14"], "range": ["#1f77b4", "#ff7f0e", "#2ca02c", "#d62728", "#9467bd", "#8c564b", "#e377c2", "#7f7f7f", "#bcbd22", "#17becf", "#2ca02c", "#9467bd"]}}}},
                {"data": {"values": [{}]}, "mark": {"type": "rule", "color": "#808080", "strokeWidth": 2}, "encoding": {"y": {"datum": 1}}},
                {"transform": [{"filter": "isValid(datum.f)"}], "mark": {"type": "line", "color": "black", "strokeWidth": 2, "strokeDash": [6, 3], "clip": true},
                 "encoding": {"x": {"field": "x", "type": "quantitative", "scale": {"type": "log"}}, "y": {"field": "f", "type": "quantitative"}}},
                {"transform": [{"filter": "isValid(datum.m)"}], "mark": {"type": "rule", "color": "black", "strokeWidth": 2, "clip": true},
                 "encoding": {"x": {"field": "x", "type": "quantitative", "scale": {"type": "log"}}, "y": {"field": "el", "type": "quantitative"}, "y2": {"field": "eh"}}},
                {"transform": [{"filter": "isValid(datum.m)"}], "mark": {"type": "line", "color": "black", "strokeWidth": 2, "clip": true},
                 "encoding": {"x": {"field": "x", "type": "quantitative", "scale": {"type": "log"}}, "y": {"field": "m", "type": "quantitative"}}},
                {"transform": [{"filter": "isValid(datum.m)"}], "mark": {"type": "circle", "color": "black", "size": 85, "opacity": 1, "clip": true},
                 "encoding": {"x": {"field": "x", "type": "quantitative", "scale": {"type": "log"}}, "y": {"field": "m", "type": "quantitative"}}},
                {"data": {"values": [{}]}, "mark": {"type": "rect", "fill": "white", "stroke": "black", "strokeWidth": 1.3, "cornerRadius": 5},
                 "encoding": {"x": {"datum": 14650}, "x2": {"datum": 25860}, "y": {"datum": 1.209}, "y2": {"datum": 1.293}}},
                {"data": {"values": [{}]}, "mark": {"type": "text", "fontSize": 16},
                 "encoding": {"x": {"datum": 19480}, "y": {"datum": 1.251}, "text": {"value": "z = 0.00"}}}
              ]
            }
          ]
        }
      ],
      "spacing": 73
    },
    {
      "hconcat": [
        {
          "title": {"text": "wCDM\u00a0\u00a0\u00a0|\u00a0\u00a0\u00a0SO, Δ = 500c"},
          "spacing": 0,
          "vconcat": [
            {
              "width": 489, "height": 128,
              "data": {"name": "C1"},
              "layer": [
                {"transform": [{"filter": "isValid(datum.lo)"}], "mark": {"type": "area", "color": "#d9d9d9", "opacity": 0.75, "clip": true},
                 "encoding": {
                   "x": {"field": "x", "type": "quantitative", "scale": {"type": "log", "domain": [300, 30000], "nice": false},
                         "axis": {"values": [300, 400, 500, 600, 700, 800, 900, 1000, 2000, 3000, 4000, 5000, 6000, 7000, 8000, 9000, 10000, 20000], "labels": false, "title": null,
                                  "tickSize": {"condition": {"test": "datum.value == 1000 || datum.value == 10000", "value": -7}, "value": -4}}},
                   "y": {"field": "lo", "type": "quantitative", "scale": {"domain": [0.85, 1.35], "nice": false, "zero": false},
                         "axis": {"values": [1.0, 1.2], "format": ".1f", "tickSize": -7, "labelPadding": 12, "title": "\u00a0(dn/dlnMₕ)ₘ₁₀", "titleAnchor": "start", "titlePadding": 8}},
                   "y2": {"field": "hi"}}},
                {"transform": [{"fold": ["s0", "s1", "s2", "s3", "s4", "s5", "s6", "s7", "s8", "s9", "s12", "s14"], "as": ["s", "v"]}, {"filter": "isValid(datum.v)"}],
                 "mark": {"type": "line", "strokeWidth": 1.5, "clip": true},
                 "encoding": {"x": {"field": "x", "type": "quantitative", "scale": {"type": "log"}}, "y": {"field": "v", "type": "quantitative"},
                   "color": {"field": "s", "type": "nominal", "legend": null, "scale": {"domain": ["s0", "s1", "s2", "s3", "s4", "s5", "s6", "s7", "s8", "s9", "s12", "s14"], "range": ["#1f77b4", "#ff7f0e", "#2ca02c", "#d62728", "#9467bd", "#8c564b", "#e377c2", "#7f7f7f", "#bcbd22", "#17becf", "#2ca02c", "#9467bd"]}}}},
                {"data": {"values": [{}]}, "mark": {"type": "rule", "color": "#808080", "strokeWidth": 2}, "encoding": {"y": {"datum": 1}}},
                {"transform": [{"filter": "isValid(datum.f)"}], "mark": {"type": "line", "color": "black", "strokeWidth": 2, "strokeDash": [6, 3], "clip": true},
                 "encoding": {"x": {"field": "x", "type": "quantitative", "scale": {"type": "log"}}, "y": {"field": "f", "type": "quantitative"}}},
                {"transform": [{"filter": "isValid(datum.m)"}], "mark": {"type": "rule", "color": "black", "strokeWidth": 2, "clip": true},
                 "encoding": {"x": {"field": "x", "type": "quantitative", "scale": {"type": "log"}}, "y": {"field": "el", "type": "quantitative"}, "y2": {"field": "eh"}}},
                {"transform": [{"filter": "isValid(datum.m)"}], "mark": {"type": "line", "color": "black", "strokeWidth": 2, "clip": true},
                 "encoding": {"x": {"field": "x", "type": "quantitative", "scale": {"type": "log"}}, "y": {"field": "m", "type": "quantitative"}}},
                {"transform": [{"filter": "isValid(datum.m)"}], "mark": {"type": "circle", "color": "black", "size": 85, "opacity": 1, "clip": true},
                 "encoding": {"x": {"field": "x", "type": "quantitative", "scale": {"type": "log"}}, "y": {"field": "m", "type": "quantitative"}}},
                {"data": {"values": [{}]}, "mark": {"type": "rect", "fill": "white", "stroke": "black", "strokeWidth": 1.3, "cornerRadius": 5},
                 "encoding": {"x": {"datum": 14650}, "x2": {"datum": 25860}, "y": {"datum": 1.209}, "y2": {"datum": 1.293}}},
                {"data": {"values": [{}]}, "mark": {"type": "text", "fontSize": 16},
                 "encoding": {"x": {"datum": 19480}, "y": {"datum": 1.251}, "text": {"value": "z = 1.00"}}}
              ]
            },
            {
              "width": 489, "height": 128,
              "data": {"name": "C0"},
              "layer": [
                {"transform": [{"filter": "isValid(datum.lo)"}], "mark": {"type": "area", "color": "#d9d9d9", "opacity": 0.75, "clip": true},
                 "encoding": {
                   "x": {"field": "x", "type": "quantitative", "scale": {"type": "log", "domain": [300, 30000], "nice": false},
                         "axis": {"values": [300, 400, 500, 600, 700, 800, 900, 1000, 2000, 3000, 4000, 5000, 6000, 7000, 8000, 9000, 10000, 20000], "title": "Nₚₐᵣₜ,ₘ₁₀", "titlePadding": 0, "labelFlush": false, "labelOverlap": false, "labelPadding": 11,
                                  "labelExpr": "datum.value == 100 ? '10²' : datum.value == 1000 ? '10³' : datum.value == 10000 ? '10⁴' : ''",
                                  "tickSize": {"condition": {"test": "datum.value == 1000 || datum.value == 10000", "value": -7}, "value": -4}}},
                   "y": {"field": "lo", "type": "quantitative", "scale": {"domain": [0.85, 1.35], "nice": false, "zero": false},
                         "axis": {"values": [1.0, 1.2], "format": ".1f", "tickSize": -7, "labelPadding": 12, "title": "(dn/dlnMₕ)ₘ₉\u00a0/", "titleAnchor": "end", "titlePadding": 8}},
                   "y2": {"field": "hi"}}},
                {"transform": [{"fold": ["s0", "s1", "s2", "s3", "s4", "s5", "s6", "s7", "s8", "s9", "s12", "s14"], "as": ["s", "v"]}, {"filter": "isValid(datum.v)"}],
                 "mark": {"type": "line", "strokeWidth": 1.5, "clip": true},
                 "encoding": {"x": {"field": "x", "type": "quantitative", "scale": {"type": "log"}}, "y": {"field": "v", "type": "quantitative"},
                   "color": {"field": "s", "type": "nominal", "legend": null, "scale": {"domain": ["s0", "s1", "s2", "s3", "s4", "s5", "s6", "s7", "s8", "s9", "s12", "s14"], "range": ["#1f77b4", "#ff7f0e", "#2ca02c", "#d62728", "#9467bd", "#8c564b", "#e377c2", "#7f7f7f", "#bcbd22", "#17becf", "#2ca02c", "#9467bd"]}}}},
                {"data": {"values": [{}]}, "mark": {"type": "rule", "color": "#808080", "strokeWidth": 2}, "encoding": {"y": {"datum": 1}}},
                {"transform": [{"filter": "isValid(datum.f)"}], "mark": {"type": "line", "color": "black", "strokeWidth": 2, "strokeDash": [6, 3], "clip": true},
                 "encoding": {"x": {"field": "x", "type": "quantitative", "scale": {"type": "log"}}, "y": {"field": "f", "type": "quantitative"}}},
                {"transform": [{"filter": "isValid(datum.m)"}], "mark": {"type": "rule", "color": "black", "strokeWidth": 2, "clip": true},
                 "encoding": {"x": {"field": "x", "type": "quantitative", "scale": {"type": "log"}}, "y": {"field": "el", "type": "quantitative"}, "y2": {"field": "eh"}}},
                {"transform": [{"filter": "isValid(datum.m)"}], "mark": {"type": "line", "color": "black", "strokeWidth": 2, "clip": true},
                 "encoding": {"x": {"field": "x", "type": "quantitative", "scale": {"type": "log"}}, "y": {"field": "m", "type": "quantitative"}}},
                {"transform": [{"filter": "isValid(datum.m)"}], "mark": {"type": "circle", "color": "black", "size": 85, "opacity": 1, "clip": true},
                 "encoding": {"x": {"field": "x", "type": "quantitative", "scale": {"type": "log"}}, "y": {"field": "m", "type": "quantitative"}}},
                {"data": {"values": [{}]}, "mark": {"type": "rect", "fill": "white", "stroke": "black", "strokeWidth": 1.3, "cornerRadius": 5},
                 "encoding": {"x": {"datum": 14650}, "x2": {"datum": 25860}, "y": {"datum": 1.209}, "y2": {"datum": 1.293}}},
                {"data": {"values": [{}]}, "mark": {"type": "text", "fontSize": 16},
                 "encoding": {"x": {"datum": 19480}, "y": {"datum": 1.251}, "text": {"value": "z = 0.00"}}}
              ]
            }
          ]
        },
        {
          "title": {"text": "wCDM\u00a0\u00a0\u00a0|\u00a0\u00a0\u00a0SO, Δ = 1000c"},
          "spacing": 0,
          "vconcat": [
            {
              "width": 489, "height": 128,
              "data": {"name": "D1"},
              "layer": [
                {"transform": [{"filter": "isValid(datum.lo)"}], "mark": {"type": "area", "color": "#d9d9d9", "opacity": 0.75, "clip": true},
                 "encoding": {
                   "x": {"field": "x", "type": "quantitative", "scale": {"type": "log", "domain": [300, 30000], "nice": false},
                         "axis": {"values": [300, 400, 500, 600, 700, 800, 900, 1000, 2000, 3000, 4000, 5000, 6000, 7000, 8000, 9000, 10000, 20000], "labels": false, "title": null,
                                  "tickSize": {"condition": {"test": "datum.value == 1000 || datum.value == 10000", "value": -7}, "value": -4}}},
                   "y": {"field": "lo", "type": "quantitative", "scale": {"domain": [0.85, 1.35], "nice": false, "zero": false},
                         "axis": {"values": [1.0, 1.2], "format": ".1f", "tickSize": -7, "labelPadding": 12, "title": "\u00a0(dn/dlnMₕ)ₘ₁₀", "titleAnchor": "start", "titlePadding": 8}},
                   "y2": {"field": "hi"}}},
                {"transform": [{"fold": ["s0", "s1", "s2", "s3", "s4", "s5", "s6", "s7", "s8", "s9", "s12", "s14"], "as": ["s", "v"]}, {"filter": "isValid(datum.v)"}],
                 "mark": {"type": "line", "strokeWidth": 1.5, "clip": true},
                 "encoding": {"x": {"field": "x", "type": "quantitative", "scale": {"type": "log"}}, "y": {"field": "v", "type": "quantitative"},
                   "color": {"field": "s", "type": "nominal", "legend": null, "scale": {"domain": ["s0", "s1", "s2", "s3", "s4", "s5", "s6", "s7", "s8", "s9", "s12", "s14"], "range": ["#1f77b4", "#ff7f0e", "#2ca02c", "#d62728", "#9467bd", "#8c564b", "#e377c2", "#7f7f7f", "#bcbd22", "#17becf", "#2ca02c", "#9467bd"]}}}},
                {"data": {"values": [{}]}, "mark": {"type": "rule", "color": "#808080", "strokeWidth": 2}, "encoding": {"y": {"datum": 1}}},
                {"transform": [{"filter": "isValid(datum.f)"}], "mark": {"type": "line", "color": "black", "strokeWidth": 2, "strokeDash": [6, 3], "clip": true},
                 "encoding": {"x": {"field": "x", "type": "quantitative", "scale": {"type": "log"}}, "y": {"field": "f", "type": "quantitative"}}},
                {"transform": [{"filter": "isValid(datum.m)"}], "mark": {"type": "rule", "color": "black", "strokeWidth": 2, "clip": true},
                 "encoding": {"x": {"field": "x", "type": "quantitative", "scale": {"type": "log"}}, "y": {"field": "el", "type": "quantitative"}, "y2": {"field": "eh"}}},
                {"transform": [{"filter": "isValid(datum.m)"}], "mark": {"type": "line", "color": "black", "strokeWidth": 2, "clip": true},
                 "encoding": {"x": {"field": "x", "type": "quantitative", "scale": {"type": "log"}}, "y": {"field": "m", "type": "quantitative"}}},
                {"transform": [{"filter": "isValid(datum.m)"}], "mark": {"type": "circle", "color": "black", "size": 85, "opacity": 1, "clip": true},
                 "encoding": {"x": {"field": "x", "type": "quantitative", "scale": {"type": "log"}}, "y": {"field": "m", "type": "quantitative"}}},
                {"data": {"values": [{}]}, "mark": {"type": "rect", "fill": "white", "stroke": "black", "strokeWidth": 1.3, "cornerRadius": 5},
                 "encoding": {"x": {"datum": 14650}, "x2": {"datum": 25860}, "y": {"datum": 1.209}, "y2": {"datum": 1.293}}},
                {"data": {"values": [{}]}, "mark": {"type": "text", "fontSize": 16},
                 "encoding": {"x": {"datum": 19480}, "y": {"datum": 1.251}, "text": {"value": "z = 1.00"}}}
              ]
            },
            {
              "width": 489, "height": 128,
              "data": {"name": "D0"},
              "layer": [
                {"transform": [{"filter": "isValid(datum.lo)"}], "mark": {"type": "area", "color": "#d9d9d9", "opacity": 0.75, "clip": true},
                 "encoding": {
                   "x": {"field": "x", "type": "quantitative", "scale": {"type": "log", "domain": [300, 30000], "nice": false},
                         "axis": {"values": [300, 400, 500, 600, 700, 800, 900, 1000, 2000, 3000, 4000, 5000, 6000, 7000, 8000, 9000, 10000, 20000], "title": "Nₚₐᵣₜ,ₘ₁₀", "titlePadding": 0, "labelFlush": false, "labelOverlap": false, "labelPadding": 11,
                                  "labelExpr": "datum.value == 100 ? '10²' : datum.value == 1000 ? '10³' : datum.value == 10000 ? '10⁴' : ''",
                                  "tickSize": {"condition": {"test": "datum.value == 1000 || datum.value == 10000", "value": -7}, "value": -4}}},
                   "y": {"field": "lo", "type": "quantitative", "scale": {"domain": [0.85, 1.35], "nice": false, "zero": false},
                         "axis": {"values": [1.0, 1.2], "format": ".1f", "tickSize": -7, "labelPadding": 12, "title": "(dn/dlnMₕ)ₘ₉\u00a0/", "titleAnchor": "end", "titlePadding": 8}},
                   "y2": {"field": "hi"}}},
                {"transform": [{"fold": ["s0", "s1", "s2", "s3", "s4", "s5", "s6", "s7", "s8", "s9", "s12", "s14"], "as": ["s", "v"]}, {"filter": "isValid(datum.v)"}],
                 "mark": {"type": "line", "strokeWidth": 1.5, "clip": true},
                 "encoding": {"x": {"field": "x", "type": "quantitative", "scale": {"type": "log"}}, "y": {"field": "v", "type": "quantitative"},
                   "color": {"field": "s", "type": "nominal", "legend": null, "scale": {"domain": ["s0", "s1", "s2", "s3", "s4", "s5", "s6", "s7", "s8", "s9", "s12", "s14"], "range": ["#1f77b4", "#ff7f0e", "#2ca02c", "#d62728", "#9467bd", "#8c564b", "#e377c2", "#7f7f7f", "#bcbd22", "#17becf", "#2ca02c", "#9467bd"]}}}},
                {"data": {"values": [{}]}, "mark": {"type": "rule", "color": "#808080", "strokeWidth": 2}, "encoding": {"y": {"datum": 1}}},
                {"transform": [{"filter": "isValid(datum.f)"}], "mark": {"type": "line", "color": "black", "strokeWidth": 2, "strokeDash": [6, 3], "clip": true},
                 "encoding": {"x": {"field": "x", "type": "quantitative", "scale": {"type": "log"}}, "y": {"field": "f", "type": "quantitative"}}},
                {"transform": [{"filter": "isValid(datum.m)"}], "mark": {"type": "rule", "color": "black", "strokeWidth": 2, "clip": true},
                 "encoding": {"x": {"field": "x", "type": "quantitative", "scale": {"type": "log"}}, "y": {"field": "el", "type": "quantitative"}, "y2": {"field": "eh"}}},
                {"transform": [{"filter": "isValid(datum.m)"}], "mark": {"type": "line", "color": "black", "strokeWidth": 2, "clip": true},
                 "encoding": {"x": {"field": "x", "type": "quantitative", "scale": {"type": "log"}}, "y": {"field": "m", "type": "quantitative"}}},
                {"transform": [{"filter": "isValid(datum.m)"}], "mark": {"type": "circle", "color": "black", "size": 85, "opacity": 1, "clip": true},
                 "encoding": {"x": {"field": "x", "type": "quantitative", "scale": {"type": "log"}}, "y": {"field": "m", "type": "quantitative"}}},
                {"data": {"values": [{}]}, "mark": {"type": "rect", "fill": "white", "stroke": "black", "strokeWidth": 1.3, "cornerRadius": 5},
                 "encoding": {"x": {"datum": 14650}, "x2": {"datum": 25860}, "y": {"datum": 1.209}, "y2": {"datum": 1.293}}},
                {"data": {"values": [{}]}, "mark": {"type": "text", "fontSize": 16},
                 "encoding": {"x": {"datum": 19480}, "y": {"datum": 1.251}, "text": {"value": "z = 0.00"}}}
              ]
            }
          ]
        }
      ],
      "spacing": 73
    }
  ],
  "spacing": 19
}
